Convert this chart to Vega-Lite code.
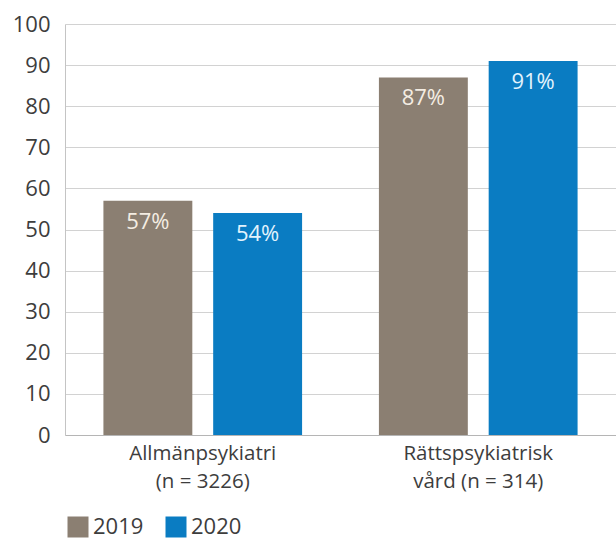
{
  "$schema": "https://vega.github.io/schema/vega-lite/v6.json",
  "width": 551,
  "height": 411,
  "autosize": {"type": "none"},
  "padding": {"left": 65, "top": 24, "right": 0, "bottom": 106},
  "background": "white",
  "config": {
    "font": "Open Sans",
    "view": {"stroke": null},
    "axis": {"labelFont": "Open Sans", "labelColor": "#3d3d3d"}
  },
  "data": {
    "values": [
      {"group": "Allmänpsykiatri (n = 3226)", "year": "2019", "share": 57},
      {"group": "Allmänpsykiatri (n = 3226)", "year": "2020", "share": 54},
      {"group": "Rättspsykiatrisk vård (n = 314)", "year": "2019", "share": 87},
      {"group": "Rättspsykiatrisk vård (n = 314)", "year": "2020", "share": 91}
    ]
  },
  "encoding": {
    "x": {
      "field": "group",
      "type": "nominal",
      "sort": null,
      "scale": {"paddingInner": 0, "paddingOuter": 0},
      "axis": {
        "title": null,
        "labelAngle": 0,
        "labelFontSize": 20.5,
        "labelLineHeight": 28,
        "labelPadding": 8,
        "ticks": false,
        "domain": true,
        "domainColor": "#b5b5b5",
        "labelExpr": "datum.value == 'Allmänpsykiatri (n = 3226)' ? ['Allmänpsykiatri', '(n = 3226)'] : ['Rättspsykiatrisk', 'vård (n = 314)']"
      }
    },
    "xOffset": {
      "field": "year",
      "type": "nominal",
      "sort": ["2019", "2020"],
      "scale": {"paddingInner": 0.19, "paddingOuter": 0.35}
    },
    "y": {
      "field": "share",
      "type": "quantitative",
      "scale": {"domain": [0, 100], "nice": false},
      "axis": {
        "title": null,
        "values": [0, 10, 20, 30, 40, 50, 60, 70, 80, 90, 100],
        "labelFontSize": 22,
        "labelPadding": 15,
        "ticks": false,
        "domain": true,
        "domainColor": "#c4c4c4",
        "grid": true,
        "gridColor": "#d2d2d2",
        "gridWidth": 1.2
      }
    }
  },
  "layer": [
    {
      "mark": {"type": "bar"},
      "encoding": {
        "color": {
          "field": "year",
          "type": "nominal",
          "scale": {"domain": ["2019", "2020"], "range": ["#8b7f72", "#0a7cc2"]},
          "legend": {
            "title": null,
            "orient": "none",
            "legendX": 2,
            "legendY": 492,
            "direction": "horizontal",
            "symbolType": "square",
            "symbolSize": 441,
            "symbolStrokeWidth": 0,
            "symbolOpacity": 1,
            "labelFontSize": 22,
            "labelColor": "#3d3d3d",
            "labelOffset": 4,
            "columnPadding": 21,
            "padding": 0
          }
        }
      }
    },
    {
      "transform": [{"calculate": "datum.share + '%'", "as": "label"}],
      "mark": {"type": "text", "baseline": "middle", "dy": 21, "fontSize": 22},
      "encoding": {
        "text": {"field": "label", "type": "nominal"},
        "color": {
          "condition": {"test": "datum.year === '2019'", "value": "#f4ede3"},
          "value": "#e2f3fd"
        }
      }
    }
  ]
}
